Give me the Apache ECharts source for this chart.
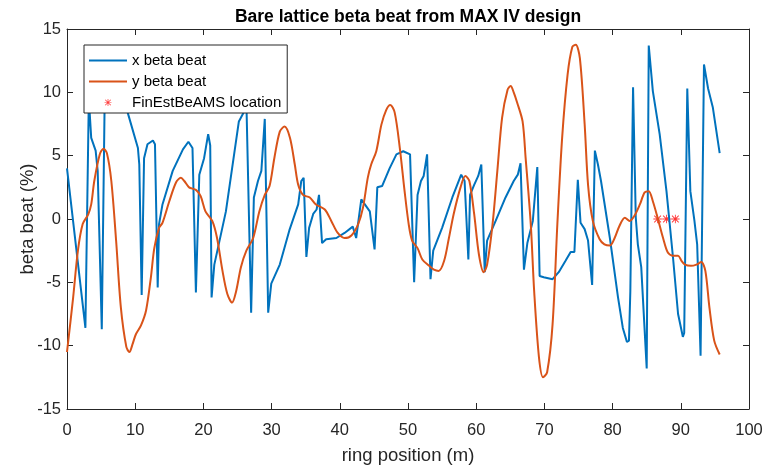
<!DOCTYPE html>
<html>
<head>
<meta charset="utf-8">
<script src="https://cdn.jsdelivr.net/npm/echarts@6/dist/echarts.min.js"></script>
<style>html,body{margin:0;padding:0;background:#fff}#c{width:766px;height:467px}</style>
</head>
<body>
<div id="c"></div>
<script>
const titleText = 'Bare lattice beta beat from MAX IV design';
const xName = 'ring position (m)';
const yName = 'beta beat (%)';
const seriesNames = ['x beta beat', 'y beta beat', 'FinEstBeAMS location'];

const blueX = [0,2.7,3.2,3.55,4.2,4.5,5.1,5.5,5.7,8.2,8.9,10.4,10.6,10.95,11.3,11.8,12.6,12.9,13.3,13.5,14.0,15.5,17.0,17.8,18.4,18.9,19.4,20.1,20.7,21.0,21.2,21.6,23.3,25.2,26.0,26.3,27.0,27.4,28.0,28.5,29.0,29.5,29.95,31.2,32.6,33.9,34.35,34.7,35.1,35.5,36.1,36.6,36.95,37.4,38.0,39.5,40.7,41.9,42.4,43.15,44.4,45.1,45.5,46.2,47.3,48.3,49.3,50.3,50.9,51.4,51.9,52.3,52.8,53.3,53.7,55.0,56.5,57.8,58.3,58.85,59.1,59.7,60.3,60.75,61.25,61.6,62.85,64.3,65.5,66.1,66.5,67.0,67.5,68.3,68.96,69.3,69.9,71.2,72.1,73.1,73.85,74.4,74.9,75.3,75.9,76.4,77.0,77.4,77.85,78.3,79.6,80.8,81.5,82.1,82.4,82.6,83.0,83.4,83.7,84.2,85.0,85.3,85.9,86.9,87.9,88.85,89.6,90.3,90.5,90.95,91.4,92.0,92.4,92.9,93.4,94.0,94.7,95.7];
const blueY = [4.0,-8.6,9.5,6.4,5.4,3.8,-8.7,8.4,10.5,10.0,8.4,5.6,4.3,-6.0,4.8,5.9,6.2,5.9,-5.4,-0.4,1.15,3.8,5.5,6.1,5.6,-5.8,3.5,4.8,6.7,5.8,-6.2,-3.6,0.6,7.7,8.5,9.3,-7.4,1.7,3.0,3.8,7.9,-7.4,-5.1,-3.6,-0.9,1.15,3.0,3.25,-3.0,-0.7,0.4,0.75,1.9,-1.9,-1.6,-1.5,-1.1,-0.6,-1.5,1.55,0.6,-2.4,2.5,2.6,4.0,5.1,5.35,5.1,-5.0,1.9,3.0,3.4,5.1,-4.75,-2.5,-0.7,1.7,3.5,3.0,-3.2,1.9,2.7,3.4,4.3,-4.2,-1.7,-0.15,1.7,3.0,3.5,4.4,-4.0,-1.9,-0.15,4.1,-4.5,-4.6,-4.75,-4.2,-3.3,-2.6,-2.6,3.1,-0.3,-0.8,-1.7,-5.2,5.4,4.3,3.0,-1.5,-6.2,-8.6,-9.7,-9.6,-5.7,10.4,0.1,-2.0,-3.8,-11.8,13.7,10.1,6.7,2.2,-3.0,-7.5,-9.3,-9.0,10.3,2.2,-0.15,-2.0,-10.8,12.2,10.3,8.8,5.2];

const orangeX = [0,0.9,1.6,2.3,3.1,3.55,4.0,4.8,5.35,5.85,6.5,7.2,7.9,8.7,9.15,9.6,10.1,10.85,11.6,12.3,12.8,13.5,14.0,15.0,16.0,16.7,17.2,17.9,18.9,19.6,20.3,21.3,22.0,22.8,23.5,24.2,24.8,25.5,26.3,27.3,28.2,29.0,29.7,30.4,31.2,31.9,32.7,33.4,33.9,34.6,35.6,36.5,37.8,38.75,39.7,40.7,41.7,42.7,43.4,44.1,44.6,45.35,46.1,46.8,47.4,48.05,48.8,49.5,50.1,50.6,51.4,52.1,53.1,53.8,54.5,55.3,56.0,56.7,57.7,58.4,59.0,59.7,60.4,61.1,61.6,62.4,63.1,63.8,64.6,65.05,65.5,66.0,66.8,67.25,68.0,68.5,69.2,69.8,70.4,71.2,71.9,72.6,73.4,74.1,74.6,75.2,75.9,76.4,77.1,78.1,78.8,79.6,80.3,81.0,81.8,82.5,83.2,84.0,84.7,85.3,85.9,86.6,87.4,88.1,88.85,89.6,90.1,90.6,91.5,92.3,93.0,93.6,94.2,94.9,95.7];
const orangeY = [-10.5,-6.2,-2.5,-0.4,0.35,1.15,3.0,5.1,5.55,5.2,3.0,-1.7,-7.0,-10.1,-10.5,-9.9,-9.1,-8.4,-7.2,-4.6,-2.3,-0.7,-0.3,1.4,2.9,3.25,3.0,2.5,2.3,1.8,0.6,-0.15,-1.5,-4.1,-5.9,-6.6,-5.7,-3.8,-2.5,-1.5,0.6,1.9,2.6,4.8,6.9,7.3,6.4,4.3,2.7,1.9,1.7,1.15,0.75,-0.15,-1.1,-1.5,-1.3,-0.4,0.9,3.25,4.3,5.35,7.45,8.6,9.0,8.4,5.6,2.2,-0.4,-1.7,-2.3,-3.2,-3.7,-4.0,-4.1,-3.3,-1.5,0.4,2.5,3.4,3.0,0.4,-2.8,-4.2,-3.6,-0.4,3.8,8.0,10.2,10.5,10.0,9.2,7.7,4.8,-0.4,-5.7,-10.9,-12.5,-12.1,-8.3,-0.4,6.4,11.4,13.6,13.75,12.7,7.5,2.7,-0.15,-1.6,-2.0,-2.1,-1.5,-0.55,0.1,-0.15,0.25,1.15,2.1,2.2,1.4,0.1,-1.5,-2.65,-2.9,-2.9,-3.3,-3.6,-3.7,-3.6,-3.4,-4.1,-7.0,-9.6,-10.7];

const starX = [86.6, 87.9, 89.2];
const starY = [0, 0, 0];

const xTicks = {min: 0, max: 100, interval: 10};
const yTicks = {min: -15, max: 15, interval: 5};

const zip = (a, b) => a.map((v, i) => [v, b[i]]);
const starShape = 'M0 4.5H10V5.5H0Z M4.5 0H5.5V10H4.5Z M0.7 1.4L1.4 0.7L9.3 8.6L8.6 9.3Z M8.6 0.7L9.3 1.4L1.4 9.3L0.7 8.6Z';
const starPath = 'path://' + starShape;
const legendStarPath = 'path://M-5 -5L-5 -5Z M15 15L15 15Z ' + starShape;
const legendLinePath = 'path://M0 0L0 0Z M0 14L0 14Z M0 6H38V8H0Z';

const axisCol = '#262626';
const font = 'Liberation Sans, Arial, Helvetica, sans-serif';

const baseX = {
  type: 'value', min: xTicks.min, max: xTicks.max, interval: xTicks.interval,
  axisLine: {show: true, onZero: false, lineStyle: {color: axisCol, width: 1}},
  axisTick: {show: true, inside: true, length: 6, lineStyle: {color: axisCol}},
  splitLine: {show: false}
};
const baseY = {
  type: 'value', min: yTicks.min, max: yTicks.max, interval: yTicks.interval,
  axisLine: {show: true, onZero: false, lineStyle: {color: axisCol, width: 1}},
  axisTick: {show: true, inside: true, length: 6, lineStyle: {color: axisCol}},
  splitLine: {show: false}
};

const chart = echarts.init(document.getElementById('c'), null, {renderer: 'canvas'});
chart.setOption({
  animation: false,
  backgroundColor: '#fff',
  title: {
    text: titleText, left: 408, top: 8, padding: 0, textAlign: 'center',
    textStyle: {fontFamily: font, fontSize: 17.5, fontWeight: 'bold', color: '#000'}
  },
  grid: {left: 67, right: 17, top: 29, bottom: 58, containLabel: false, outerBoundsMode: 'none'},
  xAxis: [
    Object.assign({}, baseX, {
      position: 'bottom', name: xName, nameLocation: 'middle', nameGap: 37, nameMoveOverlap: false,
      nameTextStyle: {fontFamily: font, fontSize: 18.5, color: axisCol},
      axisLabel: {show: true, margin: 13, fontFamily: font, fontSize: 16.5, color: axisCol}
    }),
    Object.assign({}, baseX, {position: 'top', axisLabel: {show: false}})
  ],
  yAxis: [
    Object.assign({}, baseY, {
      position: 'left', name: yName, nameLocation: 'middle', nameGap: 30, nameMoveOverlap: false,
      nameTextStyle: {fontFamily: font, fontSize: 18.5, color: axisCol},
      axisLabel: {show: true, margin: 6, fontFamily: font, fontSize: 16.5, color: axisCol}
    }),
    Object.assign({}, baseY, {position: 'right', axisLabel: {show: false}})
  ],
  legend: {
    orient: 'vertical', left: 84, top: 45,
    padding: [8, 6, 3, 5], itemGap: 6, itemWidth: 38, itemHeight: 14,
    backgroundColor: '#fff', borderColor: axisCol, borderWidth: 1,
    textStyle: {fontFamily: font, fontSize: 15, color: '#000'},
    data: [
      {name: seriesNames[0], icon: legendLinePath},
      {name: seriesNames[1], icon: legendLinePath},
      {name: seriesNames[2], icon: legendStarPath, itemStyle: {color: '#ff0000'}}
    ],
    z: 10
  },
  series: [
    {
      name: seriesNames[0], type: 'line', xAxisIndex: 0, yAxisIndex: 0,
      data: zip(blueX, blueY), symbol: 'none', smooth: false,
      lineStyle: {color: '#0072BD', width: 2}, itemStyle: {color: '#0072BD'}
    },
    {
      name: seriesNames[1], type: 'line', xAxisIndex: 0, yAxisIndex: 0,
      data: zip(orangeX, orangeY), symbol: 'none', smooth: 0.3,
      lineStyle: {color: '#D95319', width: 2}, itemStyle: {color: '#D95319'}
    },
    {
      name: seriesNames[2], type: 'scatter', xAxisIndex: 0, yAxisIndex: 0,
      data: zip(starX, starY), symbol: starPath, symbolSize: 8.5,
      itemStyle: {color: '#ff0000'}
    }
  ]
});
</script>
</body>
</html>
